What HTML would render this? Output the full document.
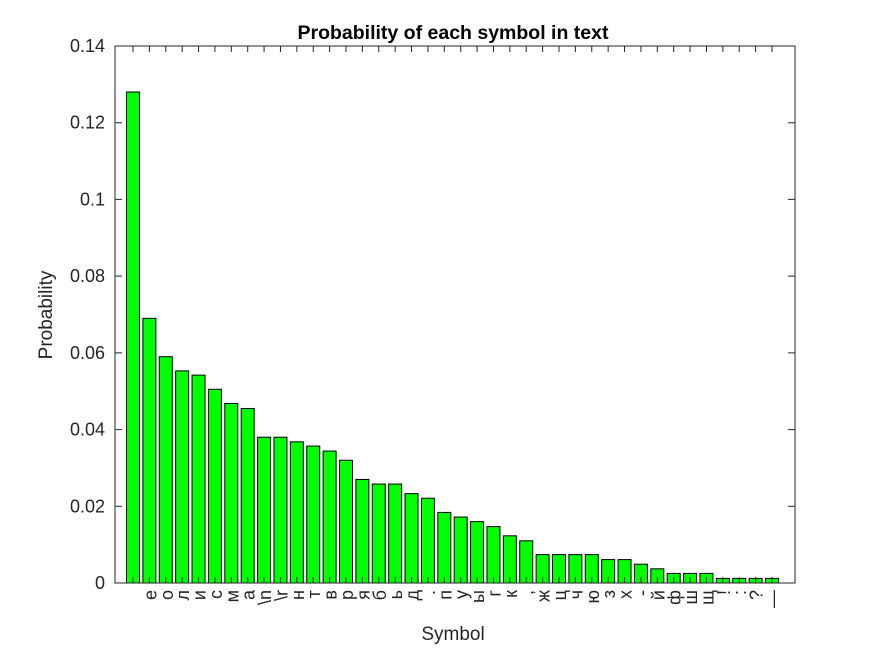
<!DOCTYPE html>
<html><head><meta charset="utf-8"><style>
body{margin:0;background:#fff}
svg{display:block;font-family:"Liberation Sans","DejaVu Sans",sans-serif}
</style></head><body>
<svg id="chart" width="875" height="656" viewBox="0 0 875 656">
<rect width="875" height="656" fill="#fff"/>
<text x="453" y="39" text-anchor="middle" font-size="19.5" font-weight="bold" fill="#000">Probability of each symbol in text</text>
<text x="453" y="640" text-anchor="middle" font-size="19" fill="#262626">Symbol</text>
<text transform="translate(52,315) rotate(-90)" text-anchor="middle" font-size="19" fill="#262626">Probability</text>
<g id="bars"></g>
<g id="axes"></g>
</svg>
<script>
const categories=[' ','е','о','л','и','с','м','а','\\n','\\r','н','т','в','р','я','б','ь','д','.','п','у','ы','г','к',',','ж','ц','ч','ю','з','х','-','й','ф','ш','щ','!',':','?','—'];
const values=[0.128,0.069,0.059,0.0553,0.0542,0.0505,0.0468,0.0455,0.038,0.038,0.0368,0.0357,0.0344,0.032,0.027,0.0258,0.0258,0.0233,0.0221,0.0184,0.0172,0.016,0.0147,0.0123,0.011,0.0074,0.0074,0.0074,0.0074,0.0061,0.0061,0.0049,0.0037,0.0025,0.0025,0.0025,0.0012,0.0012,0.0012,0.0012];
const yTicks=[0,0.02,0.04,0.06,0.08,0.1,0.12,0.14];
const yTickLabels=['0','0.02','0.04','0.06','0.08','0.1','0.12','0.14'];

const L=115,R=795,T=46,B=583;
const NS='http://www.w3.org/2000/svg';
function xs(i){return 133+(i*(772-133)/39);}
function ys(v){return B-(v/0.14)*(B-T);}
const bars=document.getElementById('bars'),axes=document.getElementById('axes');
const bw=13;
values.forEach((v,i)=>{
  const r=document.createElementNS(NS,'rect');
  r.setAttribute('x',xs(i)-bw/2);r.setAttribute('y',ys(v));
  r.setAttribute('width',bw);r.setAttribute('height',B-ys(v));
  r.setAttribute('fill','#00ff00');r.setAttribute('stroke','#000');r.setAttribute('stroke-width','1');
  
  
  bars.appendChild(r);
  const t=document.createElementNS(NS,'text');
  t.setAttribute('transform','translate('+(xs(i)+7)+',590) rotate(-90)');
  t.setAttribute('text-anchor','end');t.setAttribute('font-size','18');t.setAttribute('fill','#262626');
  t.textContent=categories[i];
  
  
  axes.appendChild(t);
  const tk=document.createElementNS(NS,'path');
  tk.setAttribute('d','M'+xs(i)+' '+B+'v-6M'+xs(i)+' '+T+'v6');
  tk.setAttribute('stroke','#262626');tk.setAttribute('stroke-width','1');
  
  
  axes.appendChild(tk);
});
yTicks.forEach((v,i)=>{
  const y=ys(v);
  const tk=document.createElementNS(NS,'path');
  tk.setAttribute('d','M'+L+' '+y+'h7M'+R+' '+y+'h-7');
  tk.setAttribute('stroke','#262626');tk.setAttribute('stroke-width','1');
  
  
  axes.appendChild(tk);
  const t=document.createElementNS(NS,'text');
  t.setAttribute('x',L-10);t.setAttribute('y',y+6);t.setAttribute('text-anchor','end');
  t.setAttribute('font-size','18');t.setAttribute('fill','#262626');
  t.textContent=yTickLabels[i];
  
  
  axes.appendChild(t);
});
const box=document.createElementNS(NS,'rect');
box.setAttribute('x',L);box.setAttribute('y',T);box.setAttribute('width',R-L);box.setAttribute('height',B-T);
box.setAttribute('fill','none');box.setAttribute('stroke','#262626');box.setAttribute('stroke-width','1');


axes.appendChild(box);
</script>
</body></html>
